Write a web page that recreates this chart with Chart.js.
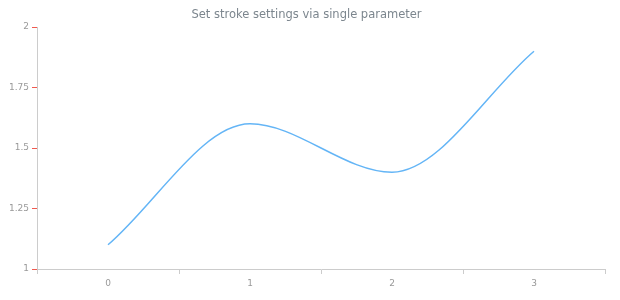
<!DOCTYPE html>
<html>
<head>
<meta charset="utf-8">
<script src="https://cdn.jsdelivr.net/npm/chart.js@4/dist/chart.umd.min.js"></script>
<style>
html,body{margin:0;padding:0;background:#fff;}
#wrap{width:620px;height:300px;}
</style>
</head>
<body>
<div id="wrap"><canvas id="c" width="620" height="300"></canvas></div>
<script>
const categories = ['0', '1', '2', '3'];
const values = [1.1, 1.6, 1.4, 1.9];
const yMin = 1, yMax = 2, yStep = 0.25;

new Chart(document.getElementById('c'), {
  type: 'line',
  data: {
    labels: categories,
    datasets: [{
      data: values,
      borderColor: '#64b5f6',
      borderWidth: 1.5,
      pointRadius: 0,
      fill: false,
      cubicInterpolationMode: 'monotone'
    }]
  },
  options: {
    responsive: false,
    animation: false,
    layout: { padding: { left: 8, right: 15, top: 0, bottom: 0 } },
    plugins: {
      legend: { display: false },
      tooltip: { enabled: false },
      title: {
        display: true,
        text: 'Set stroke settings via single parameter',
        color: '#7c868e',
        font: { family: 'DejaVu Sans', size: 11.5, weight: 'normal', lineHeight: '14px' },
        padding: { top: 8, bottom: 5 }
      }
    },
    scales: {
      x: {
        type: 'category',
        offset: true,
        grid: { offset: true, drawOnChartArea: false, tickLength: 5, color: '#cccccc', tickColor: '#cccccc' },
        border: { color: '#cccccc' },
        ticks: { color: '#999999', font: { family: 'DejaVu Sans', size: 9 }, padding: 4 },
        afterFit: (s) => { s.height = 31; }
      },
      y: {
        min: yMin, max: yMax,
        grid: { drawOnChartArea: false, tickLength: 5, color: '#f05a50', tickColor: '#f05a50', tickWidth: 1 },
        border: { color: '#cccccc' },
        ticks: {
          stepSize: yStep,
          color: '#999999', font: { family: 'DejaVu Sans', size: 9 }, padding: 3,
          callback: (v) => String(v)
        },
        afterFit: (s) => { s.width = 29; }
      }
    }
  }
});
</script>
</body>
</html>
